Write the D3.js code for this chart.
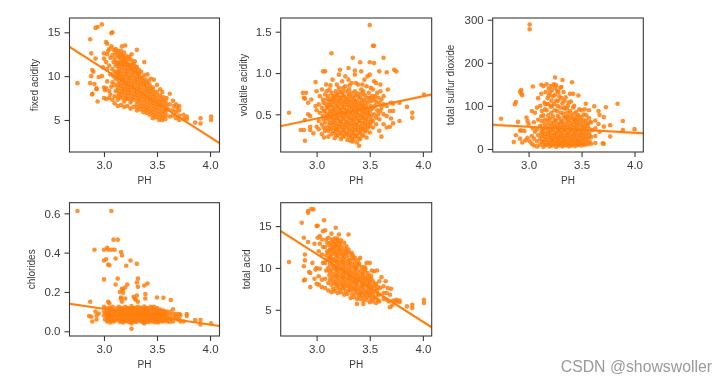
<!DOCTYPE html>
<html>
<head>
<meta charset="utf-8">
<script src="https://cdn.jsdelivr.net/npm/d3@7"></script>
<style>
  html, body { margin: 0; padding: 0; background: #fff; }
  svg { display: block; font-family: "Liberation Sans", Arial, sans-serif; filter: blur(0.35px); }
</style>
</head>
<body>
<div id="chart"></div>
<script>
// values: [pH, value]
const fixedAcidity = [
  [2.75,9.2],[2.87,14.2],[2.92,15.5],[2.94,15.6],[2.98,15.9],[3.08,15],[3.07,14.9],[2.88,12.6],[2.92,12],[2.89,10.7],[2.9,10.5],[2.88,10],[2.87,9.2],[2.91,9.1],[2.93,8.6],[2.93,8.5],[2.89,8],[2.89,7.9],[2.94,7.1],[2.95,9.9],[2.98,10],[3.02,13.9],[3.03,13.7],[4.01,5.4],[4.01,5],[3.91,5.2],[3.91,4.6],[3.86,4.7],[3.78,5.4],[3.78,5.1],[3.31,13],[3.38,11.6],[3.26,12.5],[3.2,13.5],[3.17,13.4],[3.29,11.7],
  [3.0,7.5],[3,8.7],[3.01,8.4],[2.99,11],[3.0,12],[3.0,12.6],[3.02,7.4],[3.02,8.6],[3.03,9.4],[3.03,10.8],[3.02,11.6],[3.03,12.5],[3.04,12.9],[3.05,7.5],[3.05,8.3],[3.06,10.2],[3.05,11.2],[3.06,12.1],[3.05,13.1],[3.07,13.4],[3.06,7.9],[3.07,8.8],
  [3.08,7.3],[3.08,9.3],[3.09,10],[3.08,10.8],[3.09,11.6],[3.08,12.4],[3.09,13],[3.1,6.9],[3.1,7.7],[3.11,8.3],[3.1,9],[3.11,9.7],[3.1,10.5],[3.11,11.2],[3.1,12],[3.11,12.7],[3.11,13.1],
  [3.13,6.6],[3.13,7.3],[3.14,8],[3.13,8.7],[3.14,9.4],[3.13,10.1],[3.14,10.8],[3.13,11.5],[3.14,12.2],[3.13,12.9],[3.16,6.7],[3.16,7.5],[3.17,8.2],[3.16,8.9],[3.17,9.6],[3.16,10.3],[3.17,11],[3.16,11.7],[3.17,12.4],[3.16,12.9],
  [3.19,6.5],[3.19,7.1],[3.2,7.8],[3.19,8.5],[3.2,9.2],[3.19,9.9],[3.2,10.6],[3.19,11.3],[3.2,12],[3.19,12.7],[3.22,6.6],[3.22,7.4],[3.23,8.1],[3.22,8.8],[3.23,9.5],[3.22,10.2],[3.23,10.9],[3.22,11.6],[3.23,12],
  [3.25,6.3],[3.25,7],[3.26,7.7],[3.25,8.4],[3.26,9.1],[3.25,9.8],[3.26,10.5],[3.25,11.2],[3.26,11.8],[3.28,6.5],[3.28,7.3],[3.29,8],[3.28,8.7],[3.29,9.4],[3.28,10.1],[3.29,10.8],[3.28,11.4],
  [3.31,6.1],[3.31,6.8],[3.32,7.5],[3.31,8.2],[3.32,8.9],[3.31,9.6],[3.32,10.3],[3.31,11],[3.34,6.2],[3.34,7],[3.35,7.7],[3.34,8.4],[3.35,9.1],[3.34,9.8],[3.35,10.5],
  [3.37,5.9],[3.37,6.6],[3.38,7.3],[3.37,8],[3.38,8.7],[3.37,9.4],[3.38,10.1],[3.4,5.8],[3.4,6.4],[3.41,7.1],[3.4,7.8],[3.41,8.5],[3.4,9.2],[3.41,10.2],[3.43,5.6],[3.43,6.3],[3.44,7],[3.43,7.6],[3.44,8.3],[3.43,9],[3.44,9.7],
  [3.46,5.2],[3.46,5.9],[3.47,6.6],[3.46,7.3],[3.47,8],[3.46,8.7],[3.47,9.6],[3.49,5.3],[3.49,6.1],[3.5,6.8],[3.49,7.5],[3.5,8.2],[3.5,9],[3.52,5],[3.52,5.7],[3.53,6.4],[3.52,7.1],[3.53,7.8],[3.53,8.5],
  [3.55,5],[3.55,5.6],[3.56,6.3],[3.55,7],[3.56,7.6],[3.55,8.2],[3.58,5.1],[3.58,5.9],[3.59,6.5],[3.58,7.2],[3.59,7.5],[3.62,5.4],[3.61,6.2],[3.62,6.8],[3.62,8],[3.65,5.5],[3.65,6.1],[3.66,6.6],[3.65,7.2],[3.68,5.2],[3.68,5.9],[3.69,6.4],[3.68,6.8],[3.71,5],[3.71,5.5],[3.71,6.1],[3.71,6.6],[3.75,5.1],[3.75,5.6],
  // dense middle of the cloud
  [3.135,7.65],[3.135,8.35],[3.135,9.05],[3.135,9.75],[3.135,10.45],[3.135,11.15],[3.165,7.85],[3.165,8.55],[3.165,9.25],[3.165,9.95],[3.165,10.65],[3.165,11.35],[3.195,7.45],[3.195,8.15],[3.195,8.85],[3.195,9.55],[3.195,10.25],[3.195,10.95],[3.195,11.65],
  [3.225,7.75],[3.225,8.45],[3.225,9.15],[3.225,9.85],[3.225,10.55],[3.225,11.25],[3.255,7.35],[3.255,8.05],[3.255,8.75],[3.255,9.45],[3.255,10.15],[3.255,10.85],[3.285,7.65],[3.285,8.35],[3.285,9.05],[3.285,9.75],[3.285,10.45],
  [3.315,6.45],[3.315,7.15],[3.315,7.85],[3.315,8.55],[3.315,9.25],[3.315,9.95],[3.345,6.6],[3.345,7.35],[3.345,8.05],[3.345,8.75],[3.345,9.45],[3.375,6.25],[3.375,6.95],[3.375,7.65],[3.375,8.35],[3.375,9.05],
  [3.405,6.1],[3.405,6.75],[3.405,7.45],[3.405,8.15],[3.405,8.85],[3.435,5.95],[3.435,6.65],[3.435,7.3],[3.435,7.95],[3.435,8.65],[3.465,5.55],[3.465,6.25],[3.465,6.95],[3.465,7.65],[3.465,8.35],
  [3.495,5.7],[3.495,6.45],[3.495,7.15],[3.495,7.85],[3.525,5.35],[3.525,6.05],[3.525,6.75],[3.525,7.45],[3.555,5.3],[3.555,5.95],[3.555,6.65],[3.555,7.3],[3.585,5.5],[3.585,6.2],[3.585,6.85],
  [3.12,10.4],[3.12,11.6],[3.12,12.4],[3.15,11.4],[3.15,12.1],[3.15,12.6],[3.18,11.8],[3.18,12.2],[3.21,11.4],[3.21,12.3],[3.24,11.3],[3.24,12.2],[3.27,10.9],[3.27,11.3],[3.3,10.5],[3.3,11.1],[3.33,10.2],[3.33,10.7],[3.36,9.8],[3.39,9.6],[3.42,9.4]
];
const volatileAcidity = [
  [3.5,1.58],[3.53,1.33],[3.54,1.33],[3.14,1.24],[3.34,1.185],[3.63,1.185],[3.5,1.13],[3.54,1.12],[3.41,1.13],[3.06,1.02],[3.08,1.02],[3.3,1.06],[3.22,1.04],[3.36,1.03],[2.99,0.89],[3.73,1.04],[3.75,1.02],[3.66,1.01],[3.59,1.02],[2.74,0.52],[2.87,0.76],[2.9,0.76],[2.88,0.7],[2.89,0.69],[2.92,0.64],[2.95,0.68],[2.92,0.5],[2.94,0.48],[2.89,0.43],[2.85,0.31],[2.88,0.31],[2.89,0.18],[2.94,0.35],[2.94,0.31],[3.4,0.12],[3.34,0.17],[3.61,0.23],[4.01,0.74],[3.85,0.59],[3.9,0.52],[3.9,0.46],[3.78,0.42],[3.78,0.64],[3.69,0.54],[3.72,0.54],[3.69,0.35],[3.72,0.39],[3.07,0.22],[3,0.35],[2.97,0.27],[2.99,0.6],[3,0.78],[3.0,0.55],
  [3.02,0.32],[3.02,0.42],[3.03,0.52],[3.02,0.62],[3.03,0.72],[3.05,0.26],[3.05,0.38],[3.06,0.48],[3.05,0.58],[3.06,0.68],[3.05,0.8],[3.08,0.3],[3.08,0.4],[3.09,0.46],[3.08,0.54],[3.09,0.62],[3.08,0.74],[3.09,0.86],
  [3.11,0.23],[3.11,0.3],[3.12,0.37],[3.11,0.44],[3.12,0.51],[3.11,0.58],[3.12,0.65],[3.11,0.72],[3.12,0.8],[3.14,0.26],[3.14,0.33],[3.15,0.4],[3.14,0.47],[3.15,0.54],[3.14,0.61],[3.15,0.68],[3.14,0.76],[3.15,0.92],
  [3.17,0.21],[3.17,0.28],[3.18,0.35],[3.17,0.42],[3.18,0.49],[3.17,0.56],[3.18,0.63],[3.17,0.7],[3.18,0.78],[3.2,0.24],[3.2,0.31],[3.21,0.38],[3.2,0.45],[3.21,0.52],[3.2,0.59],[3.21,0.66],[3.2,0.73],[3.21,0.82],[3.21,0.98],
  [3.23,0.2],[3.23,0.27],[3.24,0.34],[3.23,0.41],[3.24,0.48],[3.23,0.55],[3.24,0.62],[3.23,0.69],[3.24,0.77],[3.24,0.9],[3.26,0.23],[3.26,0.3],[3.27,0.37],[3.26,0.44],[3.27,0.51],[3.26,0.58],[3.27,0.65],[3.26,0.72],[3.27,0.84],[3.27,0.96],
  [3.29,0.19],[3.29,0.26],[3.3,0.33],[3.29,0.4],[3.3,0.47],[3.29,0.54],[3.3,0.61],[3.29,0.68],[3.3,0.75],[3.3,0.92],[3.32,0.18],[3.32,0.25],[3.33,0.32],[3.32,0.39],[3.33,0.46],[3.32,0.53],[3.33,0.6],[3.32,0.67],[3.33,0.76],[3.33,0.88],
  [3.35,0.2],[3.35,0.27],[3.36,0.34],[3.35,0.41],[3.36,0.48],[3.35,0.55],[3.36,0.62],[3.35,0.69],[3.36,0.78],[3.36,0.98],[3.38,0.16],[3.38,0.24],[3.39,0.31],[3.38,0.38],[3.39,0.45],[3.38,0.52],[3.39,0.59],[3.38,0.66],[3.39,0.75],[3.39,0.86],
  [3.41,0.2],[3.41,0.28],[3.42,0.35],[3.41,0.42],[3.42,0.49],[3.41,0.56],[3.42,0.63],[3.41,0.7],[3.42,0.8],[3.42,1.02],[3.44,0.24],[3.44,0.32],[3.45,0.39],[3.44,0.46],[3.45,0.53],[3.44,0.6],[3.45,0.68],[3.44,0.78],[3.45,0.92],
  [3.47,0.22],[3.47,0.31],[3.48,0.38],[3.47,0.45],[3.48,0.52],[3.47,0.6],[3.48,0.7],[3.47,0.84],[3.48,0.96],[3.5,0.28],[3.5,0.36],[3.51,0.44],[3.5,0.52],[3.51,0.6],[3.5,0.7],[3.51,0.82],[3.5,0.98],
  [3.53,0.34],[3.53,0.42],[3.54,0.5],[3.53,0.58],[3.54,0.68],[3.53,0.8],[3.54,0.9],[3.56,0.38],[3.56,0.46],[3.57,0.55],[3.56,0.65],[3.57,0.76],[3.56,0.88],[3.59,0.3],[3.59,0.44],[3.6,0.54],[3.59,0.64],[3.6,0.78],[3.6,0.86],[3.63,0.38],[3.63,0.5],[3.63,0.62],[3.63,0.72],[3.66,0.34],[3.66,0.48],[3.66,0.6],[3.67,0.8],[3.7,0.45],[3.7,0.64],[3.72,0.63],
  // dense middle of the cloud
  [3.125,0.33],[3.125,0.4],[3.125,0.47],[3.125,0.54],[3.125,0.61],[3.125,0.68],[3.155,0.3],[3.155,0.37],[3.155,0.44],[3.155,0.51],[3.155,0.58],[3.155,0.65],[3.155,0.72],[3.185,0.25],[3.185,0.32],[3.185,0.39],[3.185,0.46],[3.185,0.53],[3.185,0.6],[3.185,0.67],[3.185,0.74],
  [3.215,0.28],[3.215,0.35],[3.215,0.42],[3.215,0.49],[3.215,0.56],[3.215,0.63],[3.215,0.7],[3.215,0.77],[3.245,0.24],[3.245,0.31],[3.245,0.38],[3.245,0.45],[3.245,0.52],[3.245,0.59],[3.245,0.66],[3.245,0.73],[3.275,0.27],[3.275,0.34],[3.275,0.41],[3.275,0.48],[3.275,0.55],[3.275,0.62],[3.275,0.69],[3.275,0.78],
  [3.305,0.23],[3.305,0.3],[3.305,0.37],[3.305,0.44],[3.305,0.51],[3.305,0.58],[3.305,0.65],[3.305,0.72],[3.305,0.8],[3.335,0.22],[3.335,0.29],[3.335,0.36],[3.335,0.43],[3.335,0.5],[3.335,0.57],[3.335,0.64],[3.335,0.71],[3.365,0.24],[3.365,0.31],[3.365,0.38],[3.365,0.45],[3.365,0.52],[3.365,0.59],[3.365,0.66],[3.365,0.73],
  [3.395,0.21],[3.395,0.28],[3.395,0.35],[3.395,0.42],[3.395,0.49],[3.395,0.56],[3.395,0.63],[3.395,0.71],[3.425,0.25],[3.425,0.32],[3.425,0.39],[3.425,0.46],[3.425,0.53],[3.425,0.6],[3.425,0.67],[3.425,0.75],[3.455,0.29],[3.455,0.36],[3.455,0.43],[3.455,0.5],[3.455,0.57],[3.455,0.64],[3.455,0.73],
  [3.485,0.34],[3.485,0.41],[3.485,0.48],[3.485,0.56],[3.485,0.65],[3.515,0.4],[3.515,0.48],[3.515,0.56],[3.515,0.66],
  [3.065,0.34],[3.065,0.44],[3.065,0.54],[3.065,0.64],[3.095,0.34],[3.095,0.5],[3.095,0.58],[3.095,0.68],[3.095,0.78],[3.13,0.85],[3.19,0.86],[3.25,0.82],[3.31,0.85],[3.37,0.88],[3.43,0.86],[3.49,0.76],[3.52,0.72],[3.55,0.6],[3.55,0.72],[3.58,0.5],[3.58,0.7],[3.61,0.58],[3.61,0.68]
];
const totalSulfur = [
  [3.01,289],[3.01,278],[2.74,70],[2.93,137],[2.92,133],[2.93,129],[2.94,125],[2.87,104],[2.88,109],[2.9,63],[2.86,16],[2.88,32],[2.92,24],[2.93,43],[2.92,43],[2.94,15],[3.04,145],[3.12,149],[3.25,166],[3.32,160],[3.41,155],[3.47,124],[3.42,128],[3.54,105],[3.62,99],[3.84,105],[3.73,97],[3.66,88],[3.71,74],[3.89,65],[3.89,44],[4,46],[3.77,55],[3.77,29],[3.7,13],[3.71,12],[3.67,79],[3.71,52],[2.98,73],[2.99,65],[3,58],[2.97,20],[2.99,26],[2.96,42],[3.01,18],
  [3.03,12],[3.03,30],[3.04,48],[3.03,88],[3.05,8],[3.05,24],[3.06,40],[3.05,62],[3.06,84],[3.08,6],[3.08,18],[3.09,32],[3.08,46],[3.09,68],[3.08,96],[3.09,118],[3.11,10],[3.11,24],[3.12,38],[3.11,54],[3.12,76],[3.11,100],[3.12,128],
  [3.14,5],[3.14,16],[3.15,28],[3.14,42],[3.15,58],[3.14,78],[3.15,108],[3.14,146],[3.17,9],[3.17,20],[3.18,34],[3.17,48],[3.18,66],[3.17,90],[3.18,118],[3.17,150],[3.2,6],[3.2,15],[3.21,26],[3.2,38],[3.21,52],[3.2,70],[3.21,98],[3.2,130],[3.21,146],
  [3.23,8],[3.23,19],[3.24,31],[3.23,44],[3.24,58],[3.23,76],[3.24,104],[3.23,122],[3.24,150],[3.26,5],[3.26,14],[3.27,25],[3.26,37],[3.27,50],[3.26,66],[3.27,88],[3.26,112],[3.27,135],[3.26,148],[3.29,8],[3.29,18],[3.3,29],[3.29,42],[3.3,56],[3.29,72],[3.3,96],[3.29,122],[3.3,142],
  [3.32,6],[3.32,15],[3.33,26],[3.32,38],[3.33,50],[3.32,64],[3.33,82],[3.32,106],[3.33,132],[3.35,9],[3.35,19],[3.36,31],[3.35,44],[3.36,58],[3.35,74],[3.36,94],[3.35,120],[3.38,6],[3.38,15],[3.39,26],[3.38,38],[3.39,52],[3.38,68],[3.39,88],[3.38,108],[3.39,128],
  [3.41,8],[3.41,19],[3.42,30],[3.41,43],[3.42,56],[3.41,72],[3.42,96],[3.44,7],[3.44,16],[3.45,27],[3.44,39],[3.45,52],[3.44,66],[3.45,86],[3.47,9],[3.47,19],[3.48,31],[3.47,44],[3.48,60],[3.47,78],[3.48,92],[3.5,8],[3.5,18],[3.51,30],[3.5,43],[3.51,58],[3.5,74],[3.5,90],
  [3.53,10],[3.53,22],[3.54,36],[3.53,50],[3.54,66],[3.53,92],[3.56,11],[3.56,24],[3.57,38],[3.56,54],[3.57,72],[3.57,90],[3.59,12],[3.59,28],[3.6,44],[3.59,62],[3.63,14],[3.63,30],[3.63,48],[3.63,66],[3.67,40],[3.66,58],
  // dense middle of the cloud
  [3.125,17],[3.125,31],[3.125,46],[3.125,65],[3.125,88],[3.155,10],[3.155,22],[3.155,35],[3.155,50],[3.155,68],[3.155,92],[3.185,14],[3.185,27],[3.185,41],[3.185,57],[3.185,78],[3.185,104],[3.215,10],[3.215,20],[3.215,32],[3.215,45],[3.215,61],[3.215,84],[3.215,112],
  [3.245,13],[3.245,25],[3.245,37],[3.245,51],[3.245,67],[3.245,90],[3.275,9],[3.275,19],[3.275,31],[3.275,43],[3.275,58],[3.275,77],[3.275,100],[3.305,13],[3.305,24],[3.305,35],[3.305,49],[3.305,64],[3.305,84],[3.335,10],[3.335,20],[3.335,32],[3.335,44],[3.335,57],[3.335,73],[3.335,94],
  [3.365,13],[3.365,25],[3.365,37],[3.365,51],[3.365,66],[3.365,84],[3.395,10],[3.395,20],[3.395,32],[3.395,45],[3.395,60],[3.395,78],[3.425,13],[3.425,24],[3.425,36],[3.425,49],[3.425,64],[3.425,82],[3.455,11],[3.455,21],[3.455,33],[3.455,45],[3.455,59],[3.455,76],
  [3.485,13],[3.485,25],[3.485,37],[3.485,52],[3.485,68],[3.515,12],[3.515,24],[3.515,36],[3.515,50],[3.515,66],[3.545,15],[3.545,29],[3.545,43],[3.545,58],[3.545,78],[3.575,17],[3.575,31],[3.575,46],[3.575,62],
  [3.16,132],[3.19,140],[3.19,124],[3.22,136],[3.25,126],[3.25,142],[3.28,132],[3.31,118],[3.31,144],[3.34,112],[3.37,100],[3.4,110],[3.16,104],[3.22,100],[3.28,112],[3.34,96],[3.37,74],[3.43,70],[3.43,100],[3.46,68],[3.52,80]
];
const chlorides = [
  [2.75,0.612],[3.07,0.612],[3.09,0.466],[3.13,0.466],[2.91,0.415],[3,0.415],[3.03,0.425],[3.04,0.415],[3.07,0.415],[3.1,0.415],[3,0.36],[3.02,0.366],[3.04,0.34],[3.05,0.336],[3.11,0.37],[3.16,0.403],[3.17,0.386],[3.25,0.36],[3.31,0.343],[3.21,0.333],[3,0.264],[3.13,0.268],[3.32,0.268],[3.31,0.248],[3.11,0.238],[3.41,0.243],[3.38,0.233],[3.32,0.226],[3.22,0.238],[3.2,0.223],[3.17,0.216],[3.15,0.2],[3.18,0.196],[3.39,0.189],[3.39,0.167],[3.28,0.176],[3.31,0.182],[3.29,0.167],[3.16,0.172],[3.2,0.167],[3.17,0.15],[3.18,0.212],[3.16,0.165],[3.3,0.16],[3.32,0.15],[3.5,0.172],[3.56,0.17],[3.63,0.159],[2.87,0.15],[3.04,0.15],[3.05,0.142],[2.86,0.078],[2.89,0.05],[2.88,0.074],[3.26,0.013],[4.01,0.04],[3.91,0.057],[3.91,0.035],[3.86,0.057],[3.78,0.088],[3.78,0.078],[3.75,0.05],[3.68,0.088],[3.71,0.088],[2.92,0.1],[2.93,0.08],[2.93,0.06],[2.95,0.09],[3,0.125],
  [3,0.1],[3,0.08],[3.01,0.06],[3.02,0.115],[3.02,0.09],[3.03,0.07],[3.03,0.05],[3.05,0.12],[3.05,0.1],[3.06,0.08],[3.05,0.06],[3.06,0.045],[3.08,0.125],[3.08,0.105],[3.09,0.085],[3.08,0.065],[3.09,0.05],[3.11,0.115],[3.11,0.095],[3.12,0.075],[3.11,0.055],[3.14,0.125],[3.14,0.105],[3.15,0.085],[3.14,0.065],[3.15,0.048],
  [3.17,0.118],[3.17,0.098],[3.18,0.078],[3.17,0.06],[3.18,0.045],[3.2,0.125],[3.2,0.105],[3.21,0.085],[3.2,0.067],[3.21,0.05],[3.23,0.118],[3.23,0.1],[3.24,0.082],[3.23,0.064],[3.24,0.046],[3.26,0.128],[3.26,0.108],[3.27,0.09],[3.26,0.072],[3.27,0.054],[3.26,0.04],
  [3.29,0.12],[3.29,0.1],[3.3,0.082],[3.29,0.064],[3.3,0.047],[3.32,0.125],[3.32,0.106],[3.33,0.088],[3.32,0.07],[3.33,0.052],[3.35,0.12],[3.35,0.1],[3.36,0.083],[3.35,0.065],[3.36,0.047],[3.38,0.126],[3.38,0.108],[3.39,0.09],[3.38,0.072],[3.39,0.054],[3.38,0.04],
  [3.41,0.118],[3.41,0.1],[3.42,0.082],[3.41,0.064],[3.42,0.047],[3.44,0.124],[3.44,0.105],[3.45,0.087],[3.44,0.069],[3.45,0.05],[3.47,0.125],[3.47,0.1],[3.48,0.082],[3.47,0.064],[3.48,0.046],[3.5,0.118],[3.5,0.098],[3.51,0.08],[3.5,0.062],[3.51,0.045],
  [3.53,0.11],[3.53,0.092],[3.54,0.075],[3.53,0.058],[3.56,0.105],[3.56,0.087],[3.57,0.07],[3.56,0.052],[3.59,0.1],[3.59,0.082],[3.6,0.065],[3.59,0.05],[3.62,0.098],[3.62,0.08],[3.63,0.062],[3.62,0.048],[3.65,0.112],[3.65,0.09],[3.66,0.07],[3.65,0.05],[3.68,0.075],[3.69,0.06],[3.72,0.082],[3.71,0.062],[3.72,0.05],
  // dense middle of the cloud
  [3.035,0.06],[3.035,0.08],[3.035,0.1],[3.065,0.055],[3.065,0.07],[3.065,0.09],[3.065,0.11],[3.095,0.06],[3.095,0.08],[3.095,0.1],[3.125,0.06],[3.125,0.08],[3.125,0.1],[3.155,0.055],[3.155,0.075],[3.155,0.095],[3.155,0.115],[3.185,0.055],[3.185,0.07],[3.185,0.09],[3.185,0.11],
  [3.215,0.06],[3.215,0.075],[3.215,0.095],[3.215,0.115],[3.245,0.055],[3.245,0.072],[3.245,0.09],[3.245,0.11],[3.275,0.05],[3.275,0.065],[3.275,0.08],[3.275,0.1],[3.275,0.118],[3.305,0.055],[3.305,0.073],[3.305,0.09],[3.305,0.11],[3.335,0.06],[3.335,0.078],[3.335,0.097],[3.335,0.115],
  [3.365,0.055],[3.365,0.074],[3.365,0.092],[3.365,0.11],[3.395,0.048],[3.395,0.063],[3.395,0.08],[3.395,0.1],[3.395,0.118],[3.425,0.055],[3.425,0.073],[3.425,0.09],[3.425,0.11],[3.455,0.06],[3.455,0.078],[3.455,0.096],[3.455,0.115],[3.485,0.055],[3.485,0.072],[3.485,0.09],[3.485,0.11],
  [3.515,0.055],[3.515,0.07],[3.515,0.088],[3.515,0.105],[3.545,0.05],[3.545,0.067],[3.545,0.085],[3.545,0.1],[3.575,0.06],[3.575,0.078],[3.575,0.095]
];
const totalAcid = [
  [2.74,10.7],[2.86,15.4],[2.92,16.6],[2.92,16.8],[2.95,17.05],[2.97,17],[3.07,15.7],[3.01,15.05],[3,15],[2.88,13.6],[2.92,13.1],[2.89,11.6],[2.88,10.2],[2.89,10.9],[2.96,10.6],[2.93,9.5],[2.94,9.4],[2.89,8.6],[2.88,8.5],[2.94,7.7],[3.18,14.8],[3.3,14],[4.01,6.2],[4.01,5.8],[3.9,5.6],[3.9,5.2],[3.85,5.4],[3.78,6.1],[3.78,5.9],[2.98,8.7],[2.99,9.8],[2.98,12.9],[3,8.1],[3.01,13.6],[3,10],
  [3.02,8],[3.02,9],[3.03,9.9],[3.02,12],[3.03,12.9],[3.03,13.8],[3.05,7.7],[3.05,8.6],[3.06,10.6],[3.05,11.6],[3.06,12.5],[3.05,13.4],[3.06,14.4],[3.08,7.6],[3.08,8.7],[3.09,9.7],[3.08,10.6],[3.09,11.5],[3.08,12.5],[3.09,13.4],[3.08,14.5],
  [3.11,7.3],[3.11,8.2],[3.12,9.1],[3.11,10],[3.12,10.9],[3.11,11.8],[3.12,12.7],[3.11,13.6],[3.14,7.1],[3.14,8],[3.15,8.9],[3.14,9.8],[3.15,10.7],[3.14,11.6],[3.15,12.5],[3.14,13.4],[3.14,14.1],
  [3.17,7.2],[3.17,8.1],[3.18,9],[3.17,9.9],[3.18,10.8],[3.17,11.7],[3.18,12.6],[3.17,13.5],[3.2,7],[3.2,7.9],[3.21,8.8],[3.2,9.7],[3.21,10.6],[3.2,11.5],[3.21,12.4],[3.2,13.3],[3.21,14],[3.23,7.1],[3.23,8],[3.24,8.9],[3.23,9.8],[3.24,10.7],[3.23,11.6],[3.24,12.5],[3.23,13.3],
  [3.26,6.8],[3.26,7.7],[3.27,8.6],[3.26,9.5],[3.27,10.4],[3.26,11.3],[3.27,12.2],[3.26,13],[3.29,6.9],[3.29,7.8],[3.3,8.7],[3.29,9.6],[3.3,10.5],[3.29,11.4],[3.3,12.2],[3.32,6.4],[3.32,7.3],[3.33,8.2],[3.32,9.1],[3.33,10],[3.32,10.9],[3.33,11.8],
  [3.35,6.5],[3.35,7.4],[3.36,8.3],[3.35,9.2],[3.36,10.1],[3.35,11],[3.36,11.2],[3.38,5.7],[3.38,6.3],[3.39,7.2],[3.38,8.1],[3.39,9],[3.38,9.9],[3.39,10.9],[3.41,6.3],[3.41,7],[3.42,7.9],[3.41,8.8],[3.42,9.7],[3.41,11.2],
  [3.44,5.7],[3.44,6.1],[3.45,6.9],[3.44,7.7],[3.45,8.5],[3.44,9.3],[3.45,10.1],[3.47,6.2],[3.47,7],[3.48,7.8],[3.47,8.6],[3.48,9.4],[3.47,10.6],[3.5,5.9],[3.5,6.7],[3.51,7.5],[3.5,8.3],[3.51,9.1],[3.5,10.6],
  [3.53,6],[3.53,6.8],[3.54,7.6],[3.53,8.4],[3.54,9.6],[3.56,5.8],[3.56,6.5],[3.57,7.3],[3.56,8.1],[3.57,9.7],[3.59,6],[3.59,6.8],[3.6,7.6],[3.59,8.4],[3.61,8.9],[3.63,6.3],[3.63,7],[3.63,7.8],[3.65,8.4],[3.66,6.2],[3.66,7],[3.67,7.6],[3.69,5.3],[3.68,6],[3.69,6.8],[3.7,7.5],[3.71,5.5],[3.72,6.1],[3.75,6],[3.75,6.2],
  // dense middle of the cloud
  [3.125,8.6],[3.125,9.5],[3.125,10.4],[3.125,11.3],[3.125,12.2],[3.155,7.5],[3.155,8.4],[3.155,9.3],[3.155,10.2],[3.155,11.1],[3.155,12],[3.155,12.9],[3.185,7.65],[3.185,8.55],[3.185,9.45],[3.185,10.35],[3.185,11.25],[3.185,12.15],[3.185,13],[3.215,7.45],[3.215,8.35],[3.215,9.25],[3.215,10.15],[3.215,11.05],[3.215,11.95],[3.215,12.85],
  [3.245,7.55],[3.245,8.45],[3.245,9.35],[3.245,10.25],[3.245,11.15],[3.245,12.05],[3.275,7.25],[3.275,8.15],[3.275,9.05],[3.275,9.95],[3.275,10.85],[3.275,11.75],[3.305,7.35],[3.305,8.25],[3.305,9.15],[3.305,10.05],[3.305,10.95],[3.305,11.85],[3.335,6.85],[3.335,7.75],[3.335,8.65],[3.335,9.55],[3.335,10.45],[3.335,11.35],
  [3.365,6.95],[3.365,7.85],[3.365,8.75],[3.365,9.65],[3.365,10.55],[3.395,6.75],[3.395,7.65],[3.395,8.55],[3.395,9.45],[3.395,10.35],[3.425,6.65],[3.425,7.45],[3.425,8.35],[3.425,9.25],[3.425,10.1],[3.455,6.5],[3.455,7.3],[3.455,8.1],[3.455,8.9],[3.455,9.7],
  [3.485,6.6],[3.485,7.4],[3.485,8.2],[3.485,9],[3.515,6.3],[3.515,7.1],[3.515,7.9],[3.515,8.7],[3.545,6.4],[3.545,7.2],[3.545,8],[3.575,6.15],[3.575,6.9],[3.575,7.7],
  [3.19,8.1],[3.19,9.05],[3.19,9.9],[3.19,10.8],[3.19,11.7],[3.25,8],[3.25,8.9],[3.25,9.8],[3.25,10.7],[3.25,11.6],[3.31,7.8],[3.31,8.7],[3.31,9.6],[3.31,10.5],[3.37,7.4],[3.37,8.3],[3.37,9.2],[3.37,10.1],[3.43,7.05],[3.43,7.9],[3.43,8.8],[3.49,7],[3.49,7.8],[3.49,8.7],
  [3.1,11],[3.1,12],[3.1,13],[3.13,11.2],[3.13,12.1],[3.13,13],[3.16,13.1],[3.16,12.4],[3.19,12.6],[3.19,13.5],[3.22,12.1],[3.22,13],[3.28,12.6],[3.28,11.9],[3.34,11.5],[3.4,10.5],[3.46,9.9],[3.52,9.7]
];

const xTicks = [3.0, 3.5, 4.0];
const panelNames = ["fixed acidity", "volatile acidity", "total sulfur dioxide", "chlorides", "total acid"];
const panelPoints = [fixedAcidity, volatileAcidity, totalSulfur, chlorides, totalAcid];
const panelYTicks = [[5, 10, 15], [0.5, 1.0, 1.5], [0, 100, 200, 300], [0.0, 0.2, 0.4, 0.6], [5, 10, 15]];
const panelYFormat = ["d", ".1f", "d", ".1f", "d"];
const panelYDomain = [[1.35, 16.63], [0.044, 1.666], [-7, 304], [-0.024, 0.654], [1.86, 17.8]];
const panelXDomain = [[2.675, 4.089], [2.662, 4.083], [2.661, 4.083], [2.675, 4.089], [2.662, 4.083]];
// regression fit at the two axis ends
const panelFit = [[13.35, 2.35], [0.357, 0.74], [56, 36.5], [0.14, 0.027], [14.4, 2.9]];
// half width of the confidence band at left end, middle, right end
const panelBand = [[0.2, 0.06, 0.22], [0.022, 0.006, 0.024], [5, 1.5, 6], [0.008, 0.002, 0.008], [0.2, 0.06, 0.22]];

// left, top, right, bottom of each frame, and where the y label sits
const boxes = [
  {l: 69.5, t: 18, r: 219.5, b: 152, labelX: 38},
  {l: 280.7, t: 18, r: 431.7, b: 152, labelX: 247},
  {l: 492.7, t: 18, r: 643.3, b: 152, labelX: 454},
  {l: 69.5, t: 202.7, r: 219.5, b: 336, labelX: 35},
  {l: 280.7, t: 202.7, r: 431.7, b: 336, labelX: 250}
];

const orange = "#ff7f0e";
const ink = "#3a3a3a";

const svg = d3.select("#chart").append("svg")
    .attr("width", 727)
    .attr("height", 383);

boxes.forEach(function(box, i) {
  const x = d3.scaleLinear().domain(panelXDomain[i]).range([box.l, box.r]);
  const y = d3.scaleLinear().domain(panelYDomain[i]).range([box.b, box.t]);

  svg.append("clipPath").attr("id", "clip" + i)
    .append("rect")
      .attr("x", box.l).attr("y", box.t)
      .attr("width", box.r - box.l).attr("height", box.b - box.t);

  const g = svg.append("g");
  const plot = g.append("g").attr("clip-path", "url(#clip" + i + ")");

  // dots
  plot.selectAll("circle")
    .data(panelPoints[i])
    .enter()
    .append("circle")
      .attr("cx", function(d) { return x(d[0]); })
      .attr("cy", function(d) { return y(d[1]); })
      .attr("r", 2.3)
      .attr("fill", orange)
      .attr("fill-opacity", 0.85);

  // fit line and band
  const x0 = panelXDomain[i][0], x1 = panelXDomain[i][1];
  const xm = (x0 + x1) / 2;
  const f = panelFit[i], w = panelBand[i];
  const fm = (f[0] + f[1]) / 2;
  const band = [[x0, f[0], w[0]], [xm, fm, w[1]], [x1, f[1], w[2]]];

  plot.append("path")
    .attr("fill", orange)
    .attr("fill-opacity", 0.15)
    .attr("d", d3.area()
      .x(function(d) { return x(d[0]); })
      .y0(function(d) { return y(d[1] - d[2]); })
      .y1(function(d) { return y(d[1] + d[2]); })(band));

  plot.append("path")
    .attr("fill", "none")
    .attr("stroke", orange)
    .attr("stroke-width", 2)
    .attr("d", d3.line()
      .x(function(d) { return x(d[0]); })
      .y(function(d) { return y(d[1]); })(band));

  // axes
  const xAxis = g.append("g")
    .attr("transform", "translate(0," + box.b + ")")
    .call(d3.axisBottom(x).tickValues(xTicks).tickFormat(d3.format(".1f")).tickSize(5).tickPadding(4));
  const yAxis = g.append("g")
    .attr("transform", "translate(" + box.l + ",0)")
    .call(d3.axisLeft(y).tickValues(panelYTicks[i]).tickFormat(d3.format(panelYFormat[i])).tickSize(5).tickPadding(4));

  [xAxis, yAxis].forEach(function(a) {
    a.select(".domain").remove();
    a.selectAll("line").attr("stroke", ink).attr("stroke-width", 1.1);
    a.selectAll("text").attr("fill", ink).style("font-size", "11.5px").style("font-family", "inherit");
  });

  g.append("rect")
    .attr("x", box.l).attr("y", box.t)
    .attr("width", box.r - box.l).attr("height", box.b - box.t)
    .attr("fill", "none")
    .attr("stroke", ink)
    .attr("stroke-width", 1.1);

  g.append("text")
    .attr("x", (box.l + box.r) / 2)
    .attr("y", box.b + 32)
    .attr("text-anchor", "middle")
    .attr("fill", ink)
    .style("font-size", "10px")
    .text("PH");

  g.append("text")
    .attr("transform", "translate(" + box.labelX + "," + ((box.t + box.b) / 2) + ")rotate(-90)")
    .attr("text-anchor", "middle")
    .attr("fill", ink)
    .style("font-size", "10px")
    .text(panelNames[i]);
});

svg.append("text")
  .attr("x", 712)
  .attr("y", 372)
  .attr("text-anchor", "end")
  .attr("fill", "#9a9a9a")
  .style("font-size", "15.8px")
  .text("CSDN @showswoller");
</script>
</body>
</html>
